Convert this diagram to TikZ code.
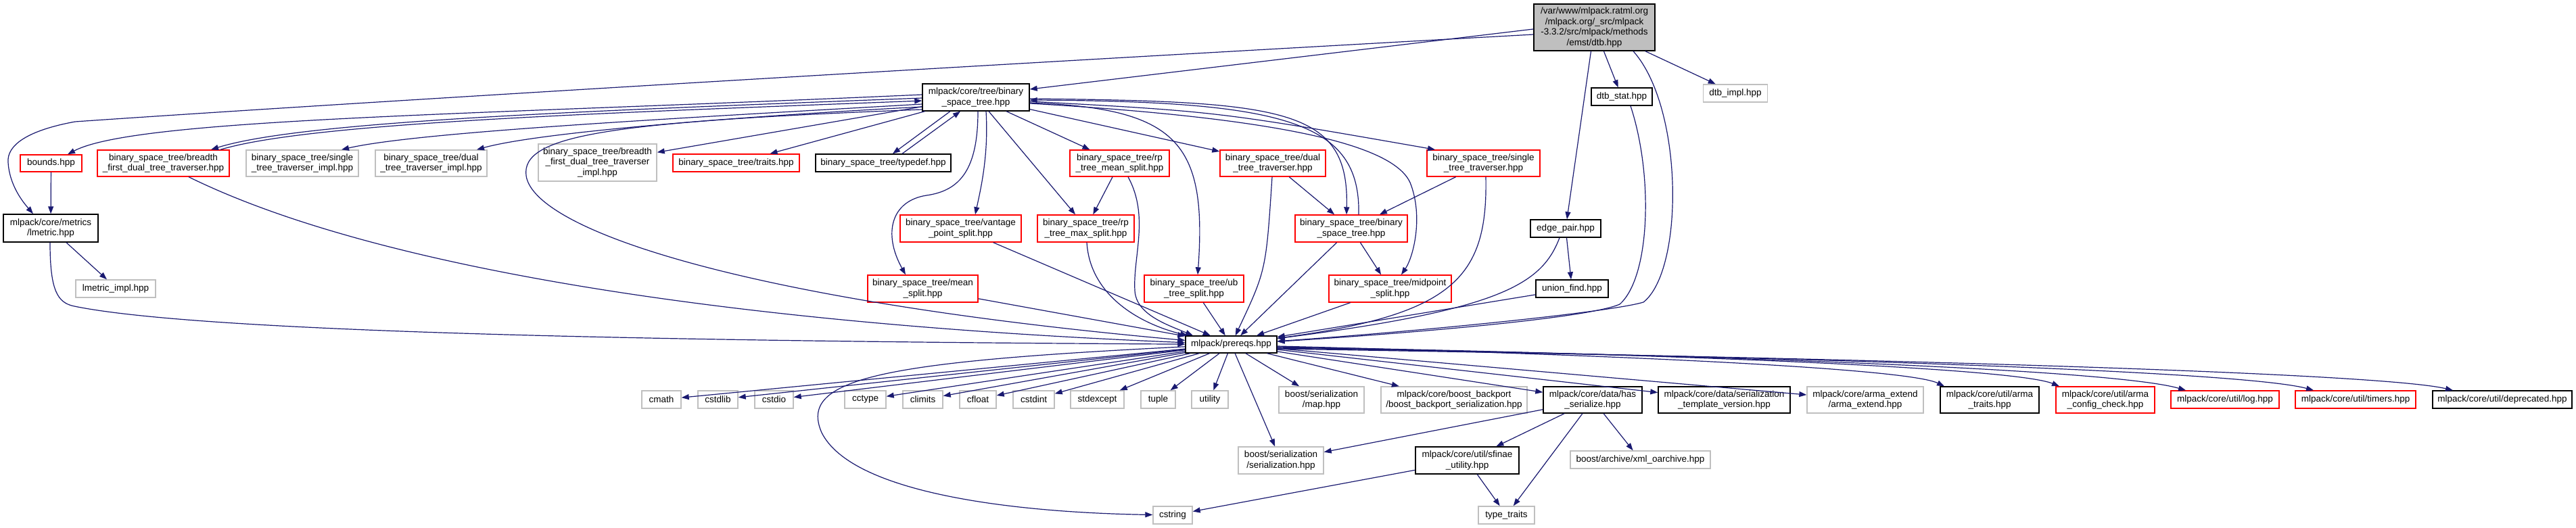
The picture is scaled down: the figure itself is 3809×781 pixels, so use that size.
\documentclass[tikz,border=0pt]{standalone}
\usepackage{fontspec}
\setmainfont{Liberation Sans}
\usetikzlibrary{arrows.meta}
\definecolor{edgec}{HTML}{191970}
\definecolor{grayb}{HTML}{BFBFBF}
\definecolor{redb}{HTML}{FF0000}
\begin{document}
\begin{tikzpicture}[x=1pt,y=1pt,
  nb/.style={draw, rectangle, inner sep=0pt, align=center, font=\fontsize{13.5}{15.7}\selectfont, line width=1.4pt},
  bk/.style={nb, draw=black},
  rd/.style={nb, draw=redb},
  gy/.style={nb, draw=grayb},
  ed/.style={draw=edgec, line width=1.2pt, -{Triangle[length=11pt,width=8pt]}},
]
\useasboundingbox[fill=white] (0,0) rectangle (3809,-781);
% nodes
\node[bk, fill=grayb, minimum width=179pt, minimum height=69pt] (root) at (2357.5,-40.5) {/var/www/mlpack.ratml.org\\/mlpack.org/\_src/mlpack\\-3.3.2/src/mlpack/methods\\/emst/dtb.hpp};
\node[bk, minimum width=158pt, minimum height=40pt] (bst) at (1443,-144) {mlpack/core/tree/binary\\\_space\_tree.hpp};
\node[bk, minimum width=90pt, minimum height=26pt] (dtb_stat) at (2398,-143) {dtb\_stat.hpp};
\node[gy, minimum width=95pt, minimum height=26pt] (dtb_impl) at (2566,-138) {dtb\_impl.hpp};
\node[rd, minimum width=91pt, minimum height=25pt] (bounds) at (75.5,-241.5) {bounds.hpp};
\node[rd, minimum width=195pt, minimum height=39pt] (bfdtt) at (241.5,-241.5) {binary\_space\_tree/breadth\\\_first\_dual\_tree\_traverser.hpp};
\node[gy, minimum width=166pt, minimum height=39pt] (stti) at (447,-241.5) {binary\_space\_tree/single\\\_tree\_traverser\_impl.hpp};
\node[gy, minimum width=165pt, minimum height=39pt] (dtti) at (637.5,-241.5) {binary\_space\_tree/dual\\\_tree\_traverser\_impl.hpp};
\node[gy, minimum width=175pt, minimum height=55pt] (bfdtti) at (883.5,-240.5) {binary\_space\_tree/breadth\\\_first\_dual\_tree\_traverser\\\_impl.hpp};
\node[rd, minimum width=187pt, minimum height=26pt] (traits) at (1088.5,-241) {binary\_space\_tree/traits.hpp};
\node[bk, minimum width=200pt, minimum height=26pt] (typedef) at (1306,-241) {binary\_space\_tree/typedef.hpp};
\node[rd, minimum width=147pt, minimum height=39pt] (rp_mean) at (1655.5,-241.5) {binary\_space\_tree/rp\\\_tree\_mean\_split.hpp};
\node[rd, minimum width=156pt, minimum height=39pt] (dual_trav) at (1882,-241.5) {binary\_space\_tree/dual\\\_tree\_traverser.hpp};
\node[rd, minimum width=167pt, minimum height=39pt] (single_trav) at (2193.5,-241.5) {binary\_space\_tree/single\\\_tree\_traverser.hpp};
\node[bk, minimum width=140pt, minimum height=41pt] (lmetric) at (75,-337.5) {mlpack/core/metrics\\/lmetric.hpp};
\node[rd, minimum width=179pt, minimum height=40pt] (vantage) at (1420.5,-338) {binary\_space\_tree/vantage\\\_point\_split.hpp};
\node[rd, minimum width=143pt, minimum height=40pt] (rp_max) at (1605.5,-338) {binary\_space\_tree/rp\\\_tree\_max\_split.hpp};
\node[rd, minimum width=166pt, minimum height=40pt] (bst_bst) at (1998,-338) {binary\_space\_tree/binary\\\_space\_tree.hpp};
\node[bk, minimum width=104pt, minimum height=26pt] (edge_pair) at (2315,-338) {edge\_pair.hpp};
\node[gy, minimum width=118pt, minimum height=26pt] (lmetric_impl) at (171,-427) {lmetric\_impl.hpp};
\node[rd, minimum width=163pt, minimum height=40pt] (mean_split) at (1364.5,-427) {binary\_space\_tree/mean\\\_split.hpp};
\node[rd, minimum width=147pt, minimum height=40pt] (ub) at (1765.5,-427) {binary\_space\_tree/ub\\\_tree\_split.hpp};
\node[rd, minimum width=181pt, minimum height=40pt] (midpoint) at (2055.5,-427) {binary\_space\_tree/midpoint\\\_split.hpp};
\node[bk, minimum width=107pt, minimum height=26pt] (union_find) at (2324.5,-427) {union\_find.hpp};
\node[bk, minimum width=135pt, minimum height=25pt] (prereqs) at (1820.5,-509.5) {mlpack/prereqs.hpp};
\node[gy, minimum width=58pt, minimum height=26pt] (cmath) at (978,-591) {cmath};
\node[gy, minimum width=59pt, minimum height=26pt] (cstdlib) at (1061.5,-591) {cstdlib};
\node[gy, minimum width=57pt, minimum height=26pt] (cstdio) at (1144.5,-591) {cstdio};
\node[gy, minimum width=61pt, minimum height=26pt] (cctype) at (1279.5,-591) {cctype};
\node[gy, minimum width=59pt, minimum height=26pt] (climits) at (1364.5,-591) {climits};
\node[gy, minimum width=54pt, minimum height=26pt] (cfloat) at (1446,-591) {cfloat};
\node[gy, minimum width=61pt, minimum height=26pt] (cstdint) at (1528.5,-591) {cstdint};
\node[gy, minimum width=79pt, minimum height=26pt] (stdexcept) at (1622.5,-591) {stdexcept};
\node[gy, minimum width=51pt, minimum height=26pt] (tuple) at (1712.5,-591) {tuple};
\node[gy, minimum width=54pt, minimum height=26pt] (utility) at (1789,-591) {utility};
\node[gy, minimum width=126pt, minimum height=39pt] (map) at (1954,-591.5) {boost/serialization\\/map.hpp};
\node[gy, minimum width=216pt, minimum height=39pt] (backport) at (2150,-591.5) {mlpack/core/boost\_backport\\/boost\_backport\_serialization.hpp};
\node[bk, minimum width=146pt, minimum height=39pt] (has_ser) at (2355,-591.5) {mlpack/core/data/has\\\_serialize.hpp};
\node[bk, minimum width=195pt, minimum height=39pt] (tmplv) at (2549.5,-591.5) {mlpack/core/data/serialization\\\_template\_version.hpp};
\node[gy, minimum width=172pt, minimum height=39pt] (arma_extend) at (2758,-591.5) {mlpack/core/arma\_extend\\/arma\_extend.hpp};
\node[bk, minimum width=146pt, minimum height=39pt] (arma_traits) at (2942,-591.5) {mlpack/core/util/arma\\\_traits.hpp};
\node[rd, minimum width=146pt, minimum height=39pt] (arma_cfg) at (3113,-591.5) {mlpack/core/util/arma\\\_config\_check.hpp};
\node[rd, minimum width=160pt, minimum height=26pt] (log) at (3290,-591) {mlpack/core/util/log.hpp};
\node[rd, minimum width=178pt, minimum height=26pt] (timers) at (3483,-591) {mlpack/core/util/timers.hpp};
\node[bk, minimum width=206pt, minimum height=26pt] (deprecated) at (3700,-591) {mlpack/core/util/deprecated.hpp};
\node[gy, minimum width=126pt, minimum height=40pt] (bss) at (1894,-681) {boost/serialization\\/serialization.hpp};
\node[bk, minimum width=153pt, minimum height=40pt] (sfinae) at (2169.5,-681) {mlpack/core/util/sfinae\\\_utility.hpp};
\node[gy, minimum width=207pt, minimum height=26pt] (xml) at (2425.5,-680) {boost/archive/xml\_oarchive.hpp};
\node[gy, minimum width=83pt, minimum height=26pt] (type_traits) at (2227.5,-762) {type\_traits};
\node[gy, minimum width=58pt, minimum height=26pt] (cstring) at (1734,-762) {cstring};
% edges from root
\draw[ed] (root.west |- 0,-43) -- (bst.east |- 0,-132);
\draw[ed] (root.west |- 0,-51) .. controls (1200,-110) and (400,-160) .. (111,-180) .. controls (40,-193) and (10,-215) .. (12,-240) .. controls (14,-275) and (35,-300) .. (lmetric.north -| 49,0);
\draw[ed] (root) -- (dtb_stat);
\draw[ed] (root) -- (dtb_impl);
\draw[ed] (root) -- (edge_pair);
\draw[ed] (root.south -| 2415,0) .. controls (2490,-160) and (2490,-400) .. (2430,-447) .. controls (2380,-462) and (2100,-490) .. (prereqs);
\draw[ed] (dtb_stat.south -| 2411,0) .. controls (2445,-260) and (2440,-410) .. (2395,-450) .. controls (2350,-470) and (2100,-492) .. (prereqs);
\draw[ed] (edge_pair.south -| 2306,0) .. controls (2280,-420) and (2220,-458) .. (prereqs);
\draw[ed] (edge_pair) -- (union_find);
\draw[ed] (union_find) -- (prereqs);
% edges from bst
\draw[ed] (bst.west |- 0,-140) .. controls (700,-170) and (200,-175) .. (bounds.north -| 100,0);
\draw[ed] (bst.west |- 0,-145) .. controls (900,-163) and (450,-178) .. (bfdtt.north -| 312,0);
\draw[ed] (bfdtt.north -| 326,0) .. controls (460,-181) and (900,-167) .. (bst.west |- 0,-149);
\draw[ed] (bst.west |- 0,-154) .. controls (1000,-175) and (620,-195) .. (stti.north -| 505,0);
\draw[ed] (bst.west |- 0,-158) .. controls (1100,-172) and (800,-195) .. (dtti.north -| 705,0);
\draw[ed] (bst) -- (bfdtti);
\draw[ed] (bst) -- (traits);
\draw[ed] (bst.south -| 1405,0) -- (typedef.north -| 1320,0);
\draw[ed] (typedef.north -| 1334,0) -- (bst.south -| 1420,0);
\draw[ed] (bst) -- (rp_mean);
\draw[ed] (bst) -- (dual_trav);
\draw[ed] (bst.east |- 0,-150) .. controls (1800,-165) .. (single_trav.north -| 2122,0);
\draw[ed] (bst.east |- 0,-146) .. controls (1900,-150) and (1995,-160) .. (bst_bst.north -| 1991,0);
\draw[ed] (bst_bst.north -| 2009,0) .. controls (2012,-180) and (1900,-150) .. (bst.east |- 0,-148);
\draw[ed] (bst.east |- 0,-153) .. controls (1900,-175) and (2060,-215) .. (2085,-270) .. controls (2105,-320) and (2090,-380) .. (midpoint.north -| 2072,0);
\draw[ed] (bst.east |- 0,-152) .. controls (1740,-160) and (1785,-210) .. (ub.north -| 1771,0);
\draw[ed] (bst.south -| 1458,0) .. controls (1462,-230) and (1450,-280) .. (vantage.north -| 1442,0);
\draw[ed] (bst.south -| 1446,0) .. controls (1446,-250) and (1420,-282) .. (1370,-289) .. controls (1318,-297) and (1305,-345) .. (mean_split.north -| 1339,0);
\draw[ed] (bst.south -| 1462,0) -- (rp_max.north -| 1590,0);
\draw[ed] (bst.west |- 0,-162) .. controls (900,-180) and (770,-200) .. (778,-260) .. controls (790,-340) and (1100,-445) .. (prereqs);
% other edges
\draw[ed] (bounds) -- (lmetric);
\draw[ed] (lmetric.south -| 98,0) -- (lmetric_impl.north -| 158,0);
\draw[ed] (lmetric.south -| 74,0) .. controls (74,-430) and (85,-448) .. (110,-453) .. controls (300,-492) and (1000,-505) .. (prereqs);
\draw[ed] (bfdtt.south -| 279,0) .. controls (560,-400) and (1100,-480) .. (prereqs);
\draw[ed] (mean_split) -- (prereqs);
\draw[ed] (vantage) -- (prereqs);
\draw[ed] (rp_max.south -| 1607,0) .. controls (1612,-440) and (1690,-480) .. (prereqs.north -| 1756,0);
\draw[ed] (rp_mean) -- (rp_max);
\draw[ed] (rp_mean.south -| 1668,0) .. controls (1700,-320) and (1675,-380) .. (1678,-430) .. controls (1680,-465) and (1725,-480) .. (prereqs.north -| 1764,0);
\draw[ed] (ub) -- (prereqs);
\draw[ed] (dual_trav.south -| 1881,0) .. controls (1872,-400) .. (prereqs);
\draw[ed] (dual_trav) -- (bst_bst);
\draw[ed] (bst_bst) -- (prereqs);
\draw[ed] (bst_bst) -- (midpoint);
\draw[ed] (midpoint) -- (prereqs);
\draw[ed] (single_trav) -- (bst_bst);
\draw[ed] (single_trav.south -| 2197,0) .. controls (2200,-410) and (2150,-465) .. (prereqs);
% from prereqs
\foreach \t in {cmath,cstdlib,cstdio,cctype,climits,cfloat,cstdint,stdexcept,tuple,utility,map,backport,has_ser,tmplv,arma_extend,bss}
  \draw[ed] (prereqs) -- (\t);
\draw[ed] (prereqs) .. controls (1300,-535) and (1180,-560) .. (1215,-640) .. controls (1260,-730) and (1500,-758) .. (cstring);
\draw[ed] (prereqs.east |- 0,-512) .. controls (2400,-525) and (2820,-545) .. (arma_traits.north -| 2875,0);
\draw[ed] (prereqs.east |- 0,-513) .. controls (2500,-524) and (2980,-545) .. (arma_cfg.north -| 3045,0);
\draw[ed] (prereqs.east |- 0,-514) .. controls (2600,-526) and (3130,-548) .. (log.north -| 3232,0);
\draw[ed] (prereqs.east |- 0,-515) .. controls (2700,-528) and (3320,-550) .. (timers.north -| 3421,0);
\draw[ed] (prereqs.east |- 0,-516) .. controls (2800,-530) and (3520,-552) .. (deprecated.north -| 3627,0);
% from has_serialize
\draw[ed] (has_ser) -- (bss);
\draw[ed] (has_ser) -- (sfinae);
\draw[ed] (has_ser) -- (type_traits);
\draw[ed] (has_ser) -- (xml);
\draw[ed] (sfinae) -- (type_traits);
\draw[ed] (sfinae) -- (cstring);
\end{tikzpicture}
\end{document}
